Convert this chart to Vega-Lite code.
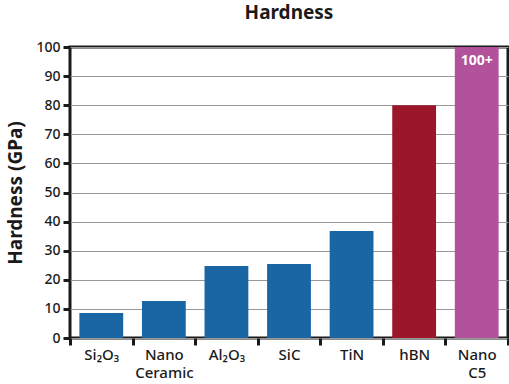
{
  "$schema": "https://vega.github.io/schema/vega-lite/v6.json",
  "autosize": {"type": "none"},
  "padding": {"left": 70, "top": 47, "right": 1, "bottom": 46},
  "width": 438,
  "height": 291,
  "background": "white",
  "title": {"text": "Hardness", "fontSize": 19, "font": "Noto Sans", "fontWeight": "bold", "color": "#1a1a1a", "offset": 17, "anchor": "middle"},
  "config": {
    "view": {"stroke": "#1a1a1a", "strokeWidth": 3},
    "font": "Noto Sans"
  },
  "data": {"values": [
    {"Material": "Si₂O₃", "Hardness": 8.6, "label": ""},
    {"Material": "Nano Ceramic", "Hardness": 12.7, "label": ""},
    {"Material": "Al₂O₃", "Hardness": 24.7, "label": ""},
    {"Material": "SiC", "Hardness": 25.4, "label": ""},
    {"Material": "TiN", "Hardness": 36.8, "label": ""},
    {"Material": "hBN", "Hardness": 80, "label": ""},
    {"Material": "Nano C5", "Hardness": 100, "label": "100+"}
  ]},
  "encoding": {
    "x": {"field": "Material", "type": "nominal", "sort": null,
      "scale": {"paddingInner": 0, "paddingOuter": 0},
      "axis": {"title": null, "labelAngle": 0, "labelExpr": "split(datum.label, ' ')", "labelFontSize": 15, "labelFontWeight": 500, "labelColor": "#1a1a1a", "labelFont": "Noto Sans", "labelLineHeight": 18, "labelPadding": 2, "tickBand": "extent", "tickSize": 7, "tickWidth": 3, "tickColor": "#1a1a1a", "domain": false, "grid": false}},
    "y": {"field": "Hardness", "type": "quantitative",
      "scale": {"domain": [0, 100], "nice": false},
      "axis": {"title": "Hardness (GPa)", "titleFontSize": 19, "titleFontWeight": "bold", "titleColor": "#1a1a1a", "titlePadding": 10, "values": [0,10,20,30,40,50,60,70,80,90,100], "labelFontSize": 14, "labelFontWeight": 500, "labelColor": "#1a1a1a", "labelPadding": 3, "tickSize": 7, "tickWidth": 3, "tickColor": "#1a1a1a", "domain": false, "grid": true, "gridColor": "#999999", "gridWidth": 1}}
  },
  "layer": [
    {"mark": {"type": "bar", "width": {"band": 0.7}},
     "encoding": {"color": {"field": "Material", "type": "nominal", "legend": null,
       "scale": {"domain": ["Si₂O₃", "Nano Ceramic", "Al₂O₃", "SiC", "TiN", "hBN", "Nano C5"],
                 "range": ["#1a65a4", "#1a65a4", "#1a65a4", "#1a65a4", "#1a65a4", "#9a1628", "#b1529b"]}}}},
    {"mark": {"type": "text", "baseline": "top", "dy": 7, "color": "white", "fontWeight": "bold", "fontSize": 14},
     "encoding": {"text": {"field": "label"}}}
  ]
}
